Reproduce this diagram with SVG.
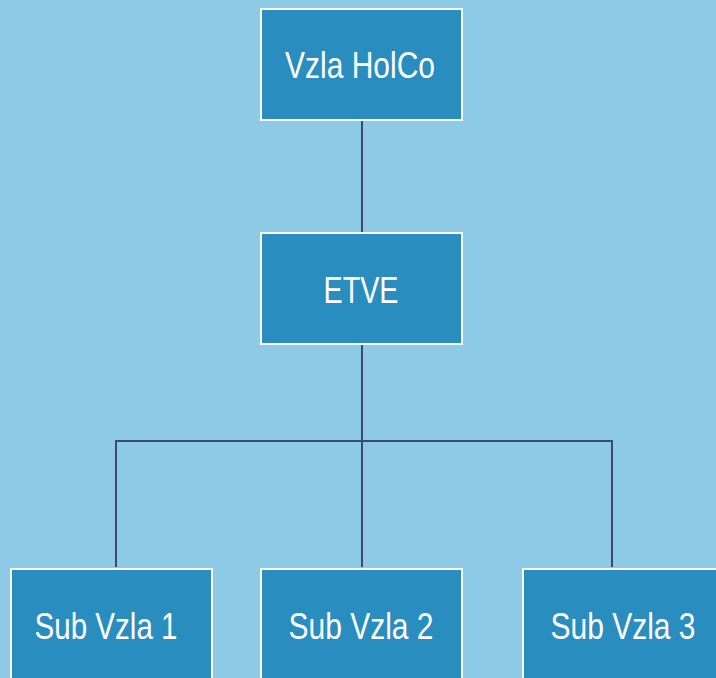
<svg xmlns="http://www.w3.org/2000/svg" width="716" height="678" viewBox="0 0 716 678">
<style>
.box{fill:#2a8dbf;stroke:#ffffff;stroke-width:2}
.lbl{font-family:"Liberation Sans",Arial,sans-serif;font-size:36px;fill:#ffffff;text-anchor:middle}
.con{fill:none;stroke:#3b4878;stroke-width:2}
</style>
<rect width="716" height="678" fill="#8ccae6"/>
<g id="connectors">
<path class="con" d="M362 121V232"/>
<path class="con" d="M362 345V441"/>
<path class="con" d="M116 567V441H612V567"/>
<path class="con" d="M362 441V567"/>
</g>
<g id="n-holco">
<rect class="box" x="261" y="9" width="201" height="111"/>
<text class="lbl" x="360" y="78" textLength="150" lengthAdjust="spacingAndGlyphs">Vzla HolCo</text>
</g>
<g id="n-etve">
<rect class="box" x="261" y="233" width="201" height="111"/>
<text class="lbl" x="361" y="303" textLength="75" lengthAdjust="spacingAndGlyphs">ETVE</text>
</g>
<g id="n-sub1">
<rect class="box" x="11" y="569" width="201" height="120"/>
<text class="lbl" x="106" y="639" textLength="143" lengthAdjust="spacingAndGlyphs">Sub Vzla 1</text>
</g>
<g id="n-sub2">
<rect class="box" x="261" y="569" width="201" height="120"/>
<text class="lbl" x="361" y="639" textLength="145" lengthAdjust="spacingAndGlyphs">Sub Vzla 2</text>
</g>
<g id="n-sub3">
<rect class="box" x="523" y="569" width="201" height="120"/>
<text class="lbl" x="623" y="639" textLength="145" lengthAdjust="spacingAndGlyphs">Sub Vzla 3</text>
</g>
</svg>
